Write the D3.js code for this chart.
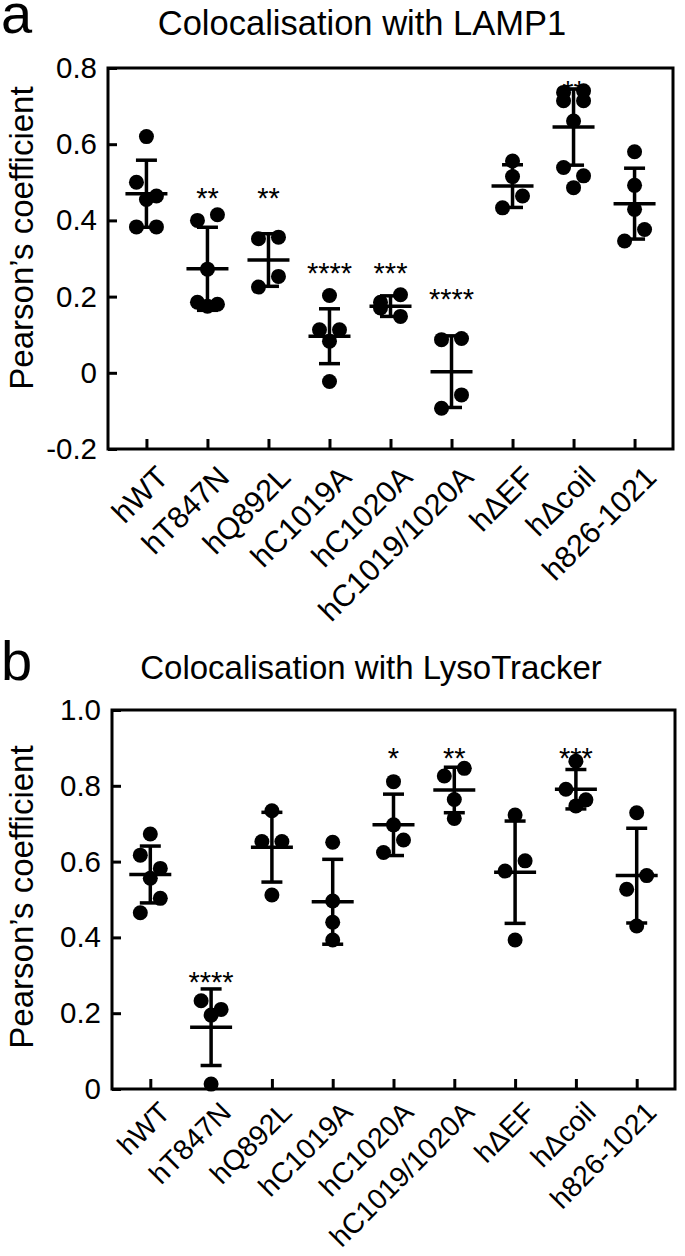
<!DOCTYPE html>
<html><head><meta charset="utf-8">
<script src="https://cdn.jsdelivr.net/npm/d3@7"></script>
<style>body{margin:0;background:#fff}svg{display:block}</style>
</head><body><svg id="c" width="685" height="1256"></svg>
<script>
const categories = ["hWT","hT847N","hQ892L","hC1019A","hC1020A","hC1019/1020A","h\u0394EF","h\u0394coil","h826-1021"];

// Panel a: colocalisation with LAMP1
const lampPoints = [
  [0.62, 0.50, 0.464, 0.455, 0.383, 0.383],
  [0.415, 0.40, 0.272, 0.185, 0.18, 0.175],
  [0.356, 0.352, 0.253, 0.225],
  [0.203, 0.113, 0.113, 0.083, -0.023],
  [0.205, 0.185, 0.17, 0.148],
  [0.09, 0.087, -0.058, -0.093],
  [0.556, 0.515, 0.464, 0.433],
  [0.74, 0.736, 0.714, 0.714, 0.661, 0.539, 0.517, 0.486],
  [0.58, 0.492, 0.429, 0.376, 0.346]
];
const lampMean = [0.47, 0.273, 0.296, 0.096, 0.175, 0.003, 0.49, 0.645, 0.444];
const lampSD   = [0.088, 0.109, 0.069, 0.072, 0.027, 0.094, 0.056, 0.10, 0.093];
const lampStars = ["", "**", "**", "****", "***", "****", "", "**", ""];
const lampStarLevel = [null, 0.477, 0.477, 0.28, 0.28, 0.21, null, 0.758, null];
const lampTicks = [-0.2, 0, 0.2, 0.4, 0.6, 0.8];

// Panel b: colocalisation with LysoTracker
const lysoPoints = [
  [0.673, 0.617, 0.582, 0.556, 0.503, 0.465],
  [0.233, 0.21, 0.195, 0.013],
  [0.734, 0.653, 0.653, 0.512],
  [0.651, 0.496, 0.44, 0.393],
  [0.811, 0.697, 0.657, 0.624],
  [0.846, 0.826, 0.764, 0.714],
  [0.723, 0.602, 0.575, 0.393],
  [0.865, 0.791, 0.763, 0.747],
  [0.729, 0.563, 0.527, 0.43]
];
const lysoMean = [0.566, 0.163, 0.638, 0.494, 0.697, 0.789, 0.572, 0.791, 0.563];
const lysoSD   = [0.075, 0.101, 0.092, 0.112, 0.081, 0.060, 0.135, 0.052, 0.125];
const lysoStars = ["", "****", "", "", "*", "**", "", "***", ""];
const lysoStarLevel = [null, 0.30, null, null, 0.892, 0.892, null, 0.892, null];
const lysoTicks = [0, 0.2, 0.4, 0.6, 0.8, 1.0];

const FONT = "'Liberation Sans', Arial, Helvetica, sans-serif";
const svg = d3.select("#c");

function dodge(vals, y, d) {
  const idx = vals.map((v, i) => i).sort((a, b) => vals[b] - vals[a]);
  const off = new Array(vals.length).fill(0);
  const groups = []; let cur = [];
  idx.forEach(i => {
    if (cur.length && y(vals[i]) - y(vals[cur[cur.length - 1]]) >= 15) { groups.push(cur); cur = []; }
    cur.push(i);
  });
  if (cur.length) groups.push(cur);
  groups.forEach(g => {
    const pat = g.length === 1 ? [0] : g.length === 2 ? [1, -1] : g.length === 3 ? [-1, 1, 0] : g.length === 4 ? [1, -1, -1, 1] : null;
    g.forEach((i, k) => { off[i] = (pat ? pat[k] : [1, -1, 0][k % 3]) * d; });
  });
  return off;
}

function panel(o) {
  const g = svg.append("g");
  const x = d3.scalePoint().domain(categories).range([o.x0, o.x1]).padding(0.63);
  const y = d3.scaleLinear().domain(o.domain).range([o.yB, o.yT]);
  const fmt = v => v === 0 ? "0" : d3.format(".1f")(v).replace("\u2212", "-");

  // y axis
  const ya = g.append("g").attr("transform", `translate(${o.x0},0)`)
    .call(d3.axisLeft(y).tickValues(o.ticks).tickFormat(fmt).tickSize(-9).tickPadding(11));
  ya.select(".domain").remove();
  ya.selectAll("line").attr("stroke", "#000").attr("stroke-width", 3);
  ya.selectAll("text").attr("font-family", FONT).attr("font-size", 29.5).attr("fill", "#000");

  // x axis
  const xa = g.append("g").attr("transform", `translate(0,${o.yB})`)
    .call(d3.axisBottom(x).tickSize(-10).tickFormat(""));
  xa.select(".domain").remove();
  xa.selectAll("line").attr("stroke", "#000").attr("stroke-width", 3);
  xa.selectAll(".tick").append("text")
    .attr("transform", `translate(${o.xlabDx},${o.xlabOff}) rotate(-45)`)
    .attr("text-anchor", "end").attr("dy", "0.75em")
    .attr("font-family", FONT).attr("font-size", o.xlabSize).attr("fill", "#000")
    .text(d => d);

  // frame
  g.append("rect").attr("x", o.x0).attr("y", o.yT).attr("width", o.x1 - o.x0).attr("height", o.yB - o.yT)
    .attr("fill", "none").attr("stroke", "#000").attr("stroke-width", 3);

  // points
  categories.forEach((c, i) => {
    const vals = o.points[i];
    const off = dodge(vals, y, 10);
    g.append("g").selectAll("circle").data(vals).join("circle")
      .attr("cx", (d, k) => x(c) + off[k]).attr("cy", d => y(d)).attr("r", 7.5).attr("fill", "#000");
  });

  // mean & SD
  const bars = g.append("g").attr("stroke", "#000").attr("stroke-width", 3.5);
  categories.forEach((c, i) => {
    const cx = x(c), m = o.mean[i], s = o.sd[i];
    bars.append("line").attr("x1", cx).attr("x2", cx).attr("y1", y(m + s)).attr("y2", y(m - s));
    bars.append("line").attr("x1", cx - 21).attr("x2", cx + 21).attr("y1", y(m)).attr("y2", y(m));
    bars.append("line").attr("x1", cx - 10.5).attr("x2", cx + 10.5).attr("y1", y(m + s)).attr("y2", y(m + s));
    bars.append("line").attr("x1", cx - 10.5).attr("x2", cx + 10.5).attr("y1", y(m - s)).attr("y2", y(m - s));
  });

  // significance stars
  g.append("g").selectAll("text").data(categories.filter((c, i) => o.stars[i])).join("text")
    .attr("x", c => x(c)).attr("y", c => y(o.starLevel[categories.indexOf(c)]))
    .attr("dy", "0.575em").attr("text-anchor", "middle")
    .attr("font-family", FONT).attr("font-size", 29).attr("fill", "#000")
    .text(c => o.stars[categories.indexOf(c)]);

  // y label
  g.append("text").attr("transform", `translate(33,${o.labelY}) rotate(-90)`)
    .attr("text-anchor", "middle").attr("font-family", FONT).attr("font-size", 33).attr("fill", "#000")
    .text("Pearson\u2019s coefficient");

  // title
  g.append("text").attr("x", o.titleX).attr("y", o.titleY).attr("text-anchor", "middle")
    .attr("font-family", FONT).attr("font-size", o.titleSize).attr("fill", "#000").text(o.title);

  // panel letter
  g.append("text").attr("x", 1).attr("y", o.letterY)
    .attr("font-family", FONT).attr("font-size", 56).attr("fill", "#000").text(o.letter);
}

panel({
  x0: 108, x1: 673, yT: 68, yB: 449, domain: [-0.2, 0.8], ticks: lampTicks,
  points: lampPoints, mean: lampMean, sd: lampSD, stars: lampStars, starLevel: lampStarLevel,
  xlabDx: 7, xlabOff: 14, xlabSize: 30.5,
  labelY: 238, title: "Colocalisation with LAMP1", titleX: 362, titleY: 35, titleSize: 34.5, letter: "a", letterY: 33
});
panel({
  x0: 112, x1: 675, yT: 710, yB: 1089, domain: [0, 1.0], ticks: lysoTicks,
  points: lysoPoints, mean: lysoMean, sd: lysoSD, stars: lysoStars, starLevel: lysoStarLevel,
  xlabDx: 6, xlabOff: 10, xlabSize: 28.5,
  labelY: 897, title: "Colocalisation with LysoTracker", titleX: 371, titleY: 679, titleSize: 33, letter: "b", letterY: 680
});
</script></body></html>
